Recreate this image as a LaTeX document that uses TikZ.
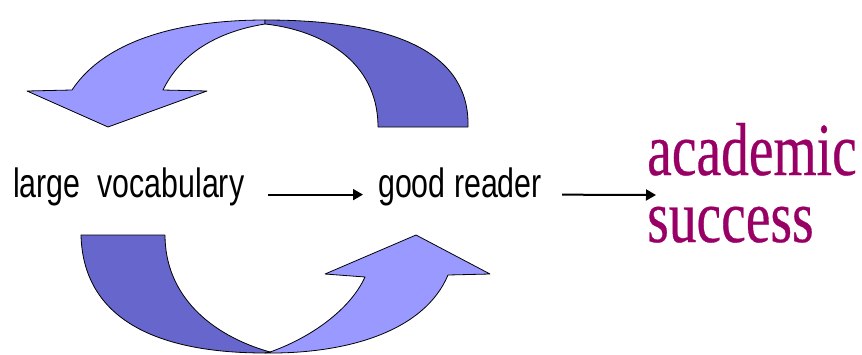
\documentclass[tikz,border=0pt]{standalone}
\usepackage{fontspec}
\usetikzlibrary{arrows.meta}
\newfontfamily\narrowsans{Liberation Sans}[FakeStretch=0.74]
\newfontfamily\narrowserif{Liberation Serif}[FakeStretch=0.74,FakeBold=0.4]
\definecolor{lightband}{RGB}{153,153,255}
\definecolor{darkband}{RGB}{102,102,204}
\definecolor{plum}{RGB}{153,0,102}
\tikzset{
  band/.style={draw=black, line width=0.8pt, line join=round},
  lightfill/.style={band, fill=lightband},
  darkfill/.style={band, fill=darkband},
  label/.style={inner sep=0pt, anchor=base west, font=\narrowsans\fontsize{41}{41}\selectfont},
  goal/.style={inner sep=0pt, anchor=base west, text=plum, font=\narrowserif\fontsize{75}{75}\selectfont},
  arr/.style={draw=black, line width=2pt, -{Triangle[length=10pt,width=11pt]}}
}
\begin{document}
\begin{tikzpicture}[x=1pt,y=-1pt]
\useasboundingbox (0,0) rectangle (862,354);
% top circular arrow
\path[lightfill] (72,90) .. controls (105,40) and (180,20) .. (265,20)
  -- (265,24) .. controls (215,32) and (180,55) .. (163,90)
  -- (207,91) -- (108,127) -- (27,91) -- cycle;
\path[darkfill] (265,20) .. controls (400,20) and (470,55) .. (468,127)
  -- (378,127) .. controls (378,60) and (320,30) .. (265,24) -- cycle;
% bottom circular arrow
\path[darkfill] (81,235) -- (165,235) .. controls (165,295) and (210,335) .. (270,352)
  -- (265,353) .. controls (150,353) and (83,315) .. (81,235) -- cycle;
\path[lightfill] (265,353) .. controls (350,354) and (425,330) .. (448,275)
  -- (490,274) -- (416,235) -- (325,274) -- (365,277)
  .. controls (350,310) and (310,338) .. (270,352) -- cycle;
% texts
\node[label] (vocab) at (13,197) {large\ \ vocabulary};
\node[label] (reader) at (378,197) {good reader};
\node[goal, text depth=0pt] (acad) at (647,175) {academic};
\node[goal, text height=35pt] (succ) at (647,242) {success};
\coordinate (tip) at (656,195);
% connectors
\draw[arr, shorten <=24pt, shorten >=15pt] ([yshift=-8.2pt]vocab.east) -- ([yshift=-8.2pt]reader.west);
\draw[arr, shorten <=20pt] ([yshift=-8.2pt]reader.east) -- (tip);
\end{tikzpicture}
\end{document}
